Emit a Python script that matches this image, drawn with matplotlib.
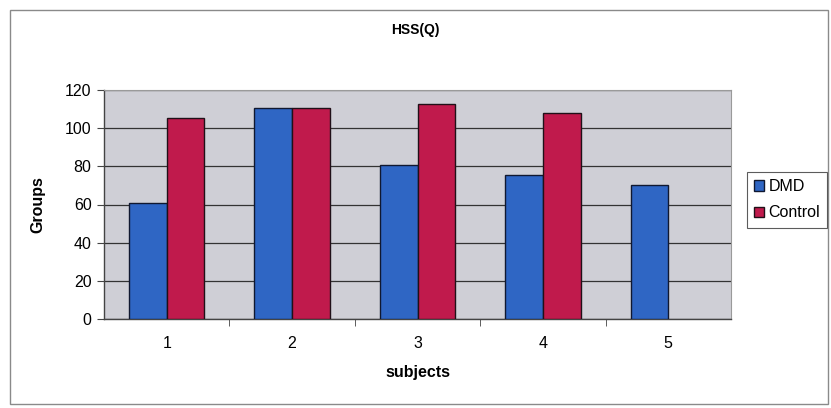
import matplotlib.pyplot as plt
import numpy as np
from matplotlib.patches import Rectangle

plt.rcParams['font.family'] = ['Liberation Sans', 'DejaVu Sans']

# Значення (для 5-го предмета контрольної групи значення немає)
subjects = ['1', '2', '3', '4', '5']
dmd = [61, 110.5, 80.5, 75.5, 70]
control = [105.5, 110.5, 112.5, 108, np.nan]

W, H = 831, 408
fig = plt.figure(figsize=(W / 100, H / 100), dpi=100)
fig.patch.set_facecolor('white')

# рамка всієї діаграми
fig.patches.append(Rectangle((10 / W, 4 / H), 818 / W, 394 / H, transform=fig.transFigure,
                             fill=False, edgecolor='#8a8a8a', linewidth=1.0))

# область побудови (в пікселях)
left, right, top, bottom = 104, 731, 90, 319
ax = fig.add_axes([left / W, 1 - bottom / H, (right - left) / W, (bottom - top) / H])
ax.set_facecolor('#cfcfd6')

x = np.arange(len(subjects))
width = 0.30
ax.bar(x - width / 2, dmd, width, color='#2f66c4', edgecolor='#101830', linewidth=1.0, label='DMD', zorder=3)
ax.bar(x + width / 2, control, width, color='#c01a4c', edgecolor='#201018', linewidth=1.0, label='Control', zorder=3)

ax.set_xlim(-0.5, len(subjects) - 0.5)
ax.set_ylim(0, 120)
ax.set_yticks(range(0, 121, 20))
ax.yaxis.grid(True, color='#333333', linewidth=0.9, zorder=1)
ax.set_xticks(x)
ax.set_xticklabels(subjects)
ax.set_xticks(np.arange(0.5, len(subjects) - 0.5, 1), minor=True)
ax.tick_params(axis='x', which='major', length=0, pad=12, labelsize=11.5)
ax.tick_params(axis='x', which='minor', length=5, direction='out', color='#444444')
ax.tick_params(axis='y', length=5, direction='out', labelsize=11.5, pad=4, color='#444444')

for s in ['top', 'right']:
    ax.spines[s].set_color('#9a9a9a')
    ax.spines[s].set_linewidth(0.8)
for s in ['left', 'bottom']:
    ax.spines[s].set_color('#444444')
    ax.spines[s].set_linewidth(1.0)

ax.set_xlabel('subjects', fontsize=11.5, fontweight='bold', labelpad=10)
ax.set_ylabel('Groups', fontsize=11.5, fontweight='bold', labelpad=14)
fig.text(415 / W, 1 - 30 / H, 'HSS(Q)', ha='center', va='center', fontsize=10, fontweight='bold')

leg = fig.legend(loc='upper left', bbox_to_anchor=(747 / W, 1 - 172 / H), frameon=True,
                 fancybox=False, fontsize=11.5, handlelength=0.6, handleheight=0.6,
                 handletextpad=0.3, borderpad=0.45, labelspacing=0.7, borderaxespad=0)
leg.get_frame().set_edgecolor('#333333')
leg.get_frame().set_linewidth(0.8)

fig.savefig('out.png', dpi=100)
